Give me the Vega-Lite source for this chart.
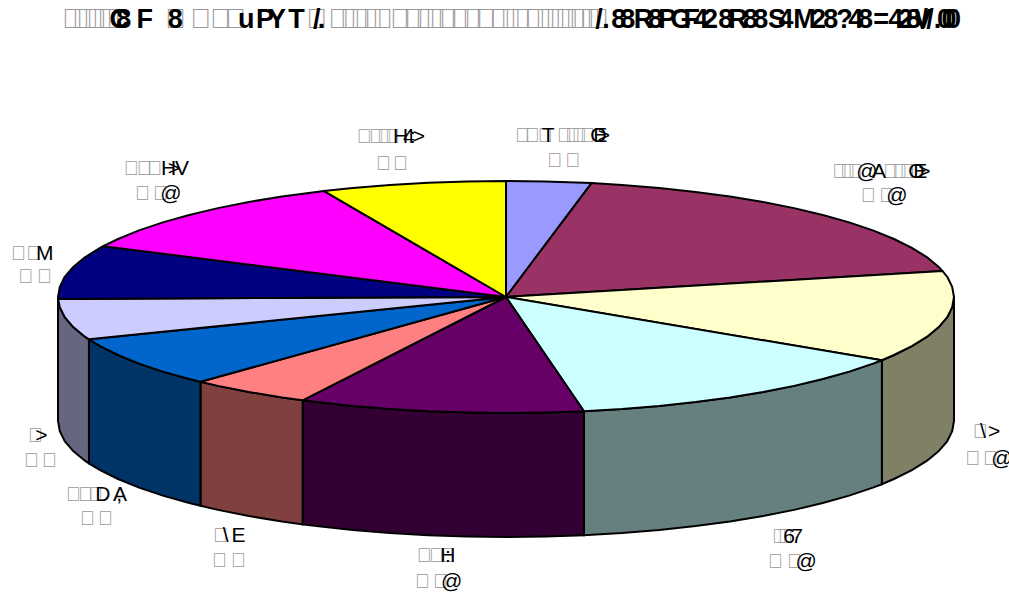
{"$schema":"https://vega.github.io/schema/vega-lite/v6.json","width":1009,"height":597,"autosize":{"type":"none"},"padding":0,"background":"white","config":{"view":{"stroke":null}},
"datasets":{
"walls":[
{"s":"C","x":1,"y":0,"y2":-1.069},{"s":"C","x":0.996,"y":-0.087,"y2":-1.156},{"s":"C","x":0.985,"y":-0.174,"y2":-1.243},{"s":"C","x":0.966,"y":-0.259,"y2":-1.328},{"s":"C","x":0.94,"y":-0.342,"y2":-1.411},{"s":"C","x":0.906,"y":-0.423,"y2":-1.492},{"s":"C","x":0.866,"y":-0.5,"y2":-1.569},{"s":"C","x":0.839,"y":-0.545,"y2":-1.614},
{"s":"D","x":0.839,"y":-0.545,"y2":-1.614},{"s":"D","x":0.819,"y":-0.574,"y2":-1.643},{"s":"D","x":0.766,"y":-0.643,"y2":-1.712},{"s":"D","x":0.707,"y":-0.707,"y2":-1.776},{"s":"D","x":0.643,"y":-0.766,"y2":-1.835},{"s":"D","x":0.574,"y":-0.819,"y2":-1.888},{"s":"D","x":0.5,"y":-0.866,"y2":-1.935},{"s":"D","x":0.423,"y":-0.906,"y2":-1.975},{"s":"D","x":0.342,"y":-0.94,"y2":-2.009},{"s":"D","x":0.259,"y":-0.966,"y2":-2.035},{"s":"D","x":0.174,"y":-0.985,"y2":-2.054},
{"s":"E","x":0.174,"y":-0.985,"y2":-2.054},{"s":"E","x":0.087,"y":-0.996,"y2":-2.065},{"s":"E","x":0,"y":-1,"y2":-2.069},{"s":"E","x":-0.087,"y":-0.996,"y2":-2.065},{"s":"E","x":-0.174,"y":-0.985,"y2":-2.054},{"s":"E","x":-0.259,"y":-0.966,"y2":-2.035},{"s":"E","x":-0.342,"y":-0.94,"y2":-2.009},{"s":"E","x":-0.423,"y":-0.906,"y2":-1.975},{"s":"E","x":-0.454,"y":-0.891,"y2":-1.96},
{"s":"F","x":-0.454,"y":-0.891,"y2":-1.96},{"s":"F","x":-0.5,"y":-0.866,"y2":-1.935},{"s":"F","x":-0.574,"y":-0.819,"y2":-1.888},{"s":"F","x":-0.643,"y":-0.766,"y2":-1.835},{"s":"F","x":-0.682,"y":-0.731,"y2":-1.8},
{"s":"G","x":-0.682,"y":-0.731,"y2":-1.8},{"s":"G","x":-0.707,"y":-0.707,"y2":-1.776},{"s":"G","x":-0.766,"y":-0.643,"y2":-1.712},{"s":"G","x":-0.819,"y":-0.574,"y2":-1.643},{"s":"G","x":-0.866,"y":-0.5,"y2":-1.569},{"s":"G","x":-0.906,"y":-0.423,"y2":-1.492},{"s":"G","x":-0.931,"y":-0.365,"y2":-1.434},
{"s":"H","x":-0.931,"y":-0.365,"y2":-1.434},{"s":"H","x":-0.94,"y":-0.342,"y2":-1.411},{"s":"H","x":-0.966,"y":-0.259,"y2":-1.328},{"s":"H","x":-0.985,"y":-0.174,"y2":-1.243},{"s":"H","x":-0.996,"y":-0.087,"y2":-1.156},{"s":"H","x":-1,"y":0,"y2":-1.069}
],
"top":[
{"s":"A","o":0,"x":0,"y":0},{"s":"A","o":1,"x":0,"y":1},{"s":"A","o":2,"x":0.087,"y":0.996},{"s":"A","o":3,"x":0.174,"y":0.985},{"s":"A","o":4,"x":0.191,"y":0.982},{"s":"A","o":5,"x":0,"y":0},
{"s":"B","o":0,"x":0,"y":0},{"s":"B","o":1,"x":0.191,"y":0.982},{"s":"B","o":2,"x":0.259,"y":0.966},{"s":"B","o":3,"x":0.342,"y":0.94},{"s":"B","o":4,"x":0.423,"y":0.906},{"s":"B","o":5,"x":0.5,"y":0.866},{"s":"B","o":6,"x":0.574,"y":0.819},{"s":"B","o":7,"x":0.643,"y":0.766},{"s":"B","o":8,"x":0.707,"y":0.707},{"s":"B","o":9,"x":0.766,"y":0.643},{"s":"B","o":10,"x":0.819,"y":0.574},{"s":"B","o":11,"x":0.866,"y":0.5},{"s":"B","o":12,"x":0.906,"y":0.423},{"s":"B","o":13,"x":0.94,"y":0.342},{"s":"B","o":14,"x":0.966,"y":0.259},{"s":"B","o":15,"x":0.974,"y":0.225},{"s":"B","o":16,"x":0,"y":0},
{"s":"C","o":0,"x":0,"y":0},{"s":"C","o":1,"x":0.974,"y":0.225},{"s":"C","o":2,"x":0.985,"y":0.174},{"s":"C","o":3,"x":0.996,"y":0.087},{"s":"C","o":4,"x":1,"y":0},{"s":"C","o":5,"x":0.996,"y":-0.087},{"s":"C","o":6,"x":0.985,"y":-0.174},{"s":"C","o":7,"x":0.966,"y":-0.259},{"s":"C","o":8,"x":0.94,"y":-0.342},{"s":"C","o":9,"x":0.906,"y":-0.423},{"s":"C","o":10,"x":0.866,"y":-0.5},{"s":"C","o":11,"x":0.839,"y":-0.545},{"s":"C","o":12,"x":0,"y":0},
{"s":"D","o":0,"x":0,"y":0},{"s":"D","o":1,"x":0.839,"y":-0.545},{"s":"D","o":2,"x":0.819,"y":-0.574},{"s":"D","o":3,"x":0.766,"y":-0.643},{"s":"D","o":4,"x":0.707,"y":-0.707},{"s":"D","o":5,"x":0.643,"y":-0.766},{"s":"D","o":6,"x":0.574,"y":-0.819},{"s":"D","o":7,"x":0.5,"y":-0.866},{"s":"D","o":8,"x":0.423,"y":-0.906},{"s":"D","o":9,"x":0.342,"y":-0.94},{"s":"D","o":10,"x":0.259,"y":-0.966},{"s":"D","o":11,"x":0.174,"y":-0.985},{"s":"D","o":12,"x":0,"y":0},
{"s":"E","o":0,"x":0,"y":0},{"s":"E","o":1,"x":0.174,"y":-0.985},{"s":"E","o":2,"x":0.087,"y":-0.996},{"s":"E","o":3,"x":0,"y":-1},{"s":"E","o":4,"x":-0.087,"y":-0.996},{"s":"E","o":5,"x":-0.174,"y":-0.985},{"s":"E","o":6,"x":-0.259,"y":-0.966},{"s":"E","o":7,"x":-0.342,"y":-0.94},{"s":"E","o":8,"x":-0.423,"y":-0.906},{"s":"E","o":9,"x":-0.454,"y":-0.891},{"s":"E","o":10,"x":0,"y":0},
{"s":"F","o":0,"x":0,"y":0},{"s":"F","o":1,"x":-0.454,"y":-0.891},{"s":"F","o":2,"x":-0.5,"y":-0.866},{"s":"F","o":3,"x":-0.574,"y":-0.819},{"s":"F","o":4,"x":-0.643,"y":-0.766},{"s":"F","o":5,"x":-0.682,"y":-0.731},{"s":"F","o":6,"x":0,"y":0},
{"s":"G","o":0,"x":0,"y":0},{"s":"G","o":1,"x":-0.682,"y":-0.731},{"s":"G","o":2,"x":-0.707,"y":-0.707},{"s":"G","o":3,"x":-0.766,"y":-0.643},{"s":"G","o":4,"x":-0.819,"y":-0.574},{"s":"G","o":5,"x":-0.866,"y":-0.5},{"s":"G","o":6,"x":-0.906,"y":-0.423},{"s":"G","o":7,"x":-0.931,"y":-0.365},{"s":"G","o":8,"x":0,"y":0},
{"s":"H","o":0,"x":0,"y":0},{"s":"H","o":1,"x":-0.931,"y":-0.365},{"s":"H","o":2,"x":-0.94,"y":-0.342},{"s":"H","o":3,"x":-0.966,"y":-0.259},{"s":"H","o":4,"x":-0.985,"y":-0.174},{"s":"H","o":5,"x":-0.996,"y":-0.087},{"s":"H","o":6,"x":-1,"y":-0.017},{"s":"H","o":7,"x":0,"y":0},
{"s":"I","o":0,"x":0,"y":0},{"s":"I","o":1,"x":-1,"y":-0.017},{"s":"I","o":2,"x":-1,"y":0},{"s":"I","o":3,"x":-0.996,"y":0.087},{"s":"I","o":4,"x":-0.985,"y":0.174},{"s":"I","o":5,"x":-0.966,"y":0.259},{"s":"I","o":6,"x":-0.94,"y":0.342},{"s":"I","o":7,"x":-0.906,"y":0.423},{"s":"I","o":8,"x":-0.899,"y":0.438},{"s":"I","o":9,"x":0,"y":0},
{"s":"J","o":0,"x":0,"y":0},{"s":"J","o":1,"x":-0.899,"y":0.438},{"s":"J","o":2,"x":-0.866,"y":0.5},{"s":"J","o":3,"x":-0.819,"y":0.574},{"s":"J","o":4,"x":-0.766,"y":0.643},{"s":"J","o":5,"x":-0.707,"y":0.707},{"s":"J","o":6,"x":-0.643,"y":0.766},{"s":"J","o":7,"x":-0.574,"y":0.819},{"s":"J","o":8,"x":-0.5,"y":0.866},{"s":"J","o":9,"x":-0.423,"y":0.906},{"s":"J","o":10,"x":-0.407,"y":0.914},{"s":"J","o":11,"x":0,"y":0},
{"s":"K","o":0,"x":0,"y":0},{"s":"K","o":1,"x":-0.407,"y":0.914},{"s":"K","o":2,"x":-0.342,"y":0.94},{"s":"K","o":3,"x":-0.259,"y":0.966},{"s":"K","o":4,"x":-0.174,"y":0.985},{"s":"K","o":5,"x":-0.087,"y":0.996},{"s":"K","o":6,"x":0,"y":1},{"s":"K","o":7,"x":0,"y":0}
],
"titleBoxes":[{"x":-0.991},{"x":-0.969},{"x":-0.944},{"x":-0.924},{"x":-0.906},{"x":-0.761},{"x":-0.705},{"x":-0.661},{"x":-0.627},{"x":-0.446},{"x":-0.397},{"x":-0.371},{"x":-0.348},{"x":-0.321},{"x":-0.299},{"x":-0.259},{"x":-0.23},{"x":-0.203},{"x":-0.181},{"x":-0.154},{"x":-0.125},{"x":-0.098},{"x":-0.069},{"x":-0.036},{"x":-0.013},{"x":0.009},{"x":0.042},{"x":0.065},{"x":0.087},{"x":0.109},{"x":0.132},{"x":0.147},{"x":0.165},{"x":0.183}],
"titleGlyphs":[{"t":"C","x":-0.885},{"t":"8","x":-0.87},{"t":"F","x":-0.825},{"t":"8","x":-0.755},{"t":"u","x":-0.598},{"t":"P","x":-0.558},{"t":"Y","x":-0.531},{"t":"T","x":-0.486},{"t":"/","x":-0.431},{"t":".","x":-0.42},{"t":"/","x":0.199},{"t":".","x":0.215},{"t":"8","x":0.235},{"t":"8","x":0.255},{"t":"R","x":0.285},{"t":"8","x":0.317},{"t":"P","x":0.34},{"t":"G","x":0.367},{"t":"F","x":0.396},{"t":"4","x":0.418},{"t":"2","x":0.44},{"t":"8","x":0.474},{"t":"R","x":0.496},{"t":"8","x":0.529},{"t":"8","x":0.552},{"t":"S","x":0.585},{"t":"4","x":0.608},{"t":"M","x":0.641},{"t":"2","x":0.681},{"t":"8","x":0.708},{"t":"?","x":0.737},{"t":"4","x":0.764},{"t":"8","x":0.786},{"t":"=","x":0.82},{"t":"4","x":0.853},{"t":"2","x":0.875},{"t":"8","x":0.893},{"t":"V","x":0.91},{"t":"/","x":0.925},{"t":"/","x":0.938},{"t":".","x":0.955},{"t":"0","x":0.962},{"t":"0","x":0.972},{"t":"0","x":0.982}],
"labelBoxes":[{"x":-0.333,"y":1.328},{"x":-0.306,"y":1.328},{"x":-0.288,"y":1.328},{"x":-0.27,"y":1.328},{"x":-0.29,"y":1.095},{"x":-0.252,"y":1.095},
{"x":0.02,"y":1.336},{"x":0.042,"y":1.336},{"x":0.071,"y":1.336},{"x":0.114,"y":1.336},{"x":0.132,"y":1.336},{"x":0.147,"y":1.336},{"x":0.165,"y":1.336},{"x":0.092,"y":1.121},{"x":0.132,"y":1.121},
{"x":0.728,"y":1.026},{"x":0.746,"y":1.026},{"x":0.763,"y":1.026},{"x":0.842,"y":1.026},{"x":0.862,"y":1.026},{"x":0.879,"y":1.026},{"x":0.902,"y":1.026},{"x":0.792,"y":0.819},{"x":0.833,"y":0.819},
{"x":-0.853,"y":1.052},{"x":-0.824,"y":1.052},{"x":-0.801,"y":1.052},{"x":-0.828,"y":0.836},{"x":-0.788,"y":0.836},
{"x":-1.105,"y":0.319},{"x":-1.071,"y":0.319},{"x":-1.089,"y":0.121},{"x":-1.047,"y":0.121},
{"x":-1.067,"y":-1.25},{"x":-1.076,"y":-1.466},{"x":-1.036,"y":-1.466},
{"x":-0.982,"y":-1.759},{"x":-0.955,"y":-1.759},{"x":-0.933,"y":-1.759},{"x":-0.951,"y":-1.966},{"x":-0.911,"y":-1.966},
{"x":-0.654,"y":-2.112},{"x":-0.656,"y":-2.328},{"x":-0.614,"y":-2.328},
{"x":-0.199,"y":-2.284},{"x":-0.172,"y":-2.284},{"x":-0.147,"y":-2.284},{"x":-0.203,"y":-2.509},{"x":-0.163,"y":-2.509},
{"x":0.594,"y":-2.121},{"x":0.607,"y":-2.121},{"x":0.585,"y":-2.336},{"x":0.627,"y":-2.336},
{"x":1.042,"y":-1.216},{"x":1.025,"y":-1.448},{"x":1.065,"y":-1.448}],
"labelGlyphs":[{"t":"H","x":-0.252,"y":1.328},{"t":"4","x":-0.23,"y":1.328},{"t":":","x":-0.215,"y":1.328},{"t":">","x":-0.208,"y":1.328},
{"t":"T","x":0.08,"y":1.336},{"t":"O","x":0.188,"y":1.336},{"t":"E","x":0.195,"y":1.336},{"t":">","x":0.205,"y":1.336},
{"t":"@","x":0.782,"y":1.026},{"t":"A","x":0.817,"y":1.026},{"t":"O","x":0.898,"y":1.026},{"t":"E","x":0.909,"y":1.026},{"t":">","x":0.92,"y":1.026},{"t":"@","x":0.849,"y":0.819},
{"t":"H","x":-0.77,"y":1.052},{"t":">","x":-0.755,"y":1.052},{"t":"V","x":-0.739,"y":1.052},{"t":"@","x":-0.772,"y":0.836},
{"t":"M","x":-1.049,"y":0.319},
{"t":">","x":-1.051,"y":-1.25},
{"t":"D","x":-0.917,"y":-1.759},{"t":"A","x":-0.877,"y":-1.759},{"t":",","x":-0.87,"y":-1.759},
{"t":"\\","x":-0.632,"y":-2.112},{"t":"E","x":-0.613,"y":-2.112},
{"t":"H","x":-0.147,"y":-2.284},{"t":":","x":-0.136,"y":-2.284},{"t":"@","x":-0.145,"y":-2.509},
{"t":"6","x":0.619,"y":-2.121},{"t":"7","x":0.637,"y":-2.121},{"t":"@","x":0.646,"y":-2.336},
{"t":"\\","x":1.058,"y":-1.216},{"t":">","x":1.076,"y":-1.216},{"t":"@","x":1.083,"y":-1.448}]
},
"layer":[
{"data":{"name":"walls"},"mark":{"type":"area","stroke":"black","strokeWidth":2,"opacity":1},
"encoding":{"x":{"field":"x","type":"quantitative","scale":{"domain":[-1.1295,1.1228],"nice":false,"zero":false},"axis":null},"y":{"field":"y","type":"quantitative","scale":{"domain":[-2.586,2.56],"nice":false,"zero":false},"axis":null},"y2":{"field":"y2"},"fill":{"field":"s","type":"nominal","legend":null,"scale":{"domain":["C","D","E","F","G","H"],"range":["#808066","#668080","#330033","#804040","#003366","#666680"]}}}},
{"data":{"name":"top"},"mark":{"type":"line","stroke":"black","strokeWidth":2,"strokeJoin":"round"},
"encoding":{"x":{"field":"x","type":"quantitative","axis":null},"y":{"field":"y","type":"quantitative","axis":null},"order":{"field":"o","type":"quantitative"},"detail":{"field":"s"},"fill":{"field":"s","type":"nominal","legend":null,"scale":{"domain":["A","B","C","D","E","F","G","H","I","J","K"],"range":["#9999FF","#993366","#FFFFCC","#CCFFFF","#660066","#FF8080","#0066CC","#CCCCFF","#000080","#FF00FF","#FFFF00"]}}}},
{"data":{"name":"titleBoxes"},"mark":{"type":"text","text":"\ue000","font":"Liberation Sans","fontSize":28,"align":"left","baseline":"alphabetic","color":"#999999"},"encoding":{"x":{"field":"x","type":"quantitative","axis":null},"y":{"datum":2.319,"type":"quantitative","axis":null}}},
{"data":{"name":"titleGlyphs"},"mark":{"type":"text","font":"Liberation Sans","fontSize":27,"fontWeight":"bold","align":"left","baseline":"alphabetic","color":"black"},"encoding":{"x":{"field":"x","type":"quantitative","axis":null},"y":{"datum":2.319,"type":"quantitative","axis":null},"text":{"field":"t"}}},
{"data":{"name":"labelBoxes"},"mark":{"type":"text","text":"\ue000","font":"Liberation Sans","fontSize":20,"align":"left","baseline":"alphabetic","color":"#999999"},"encoding":{"x":{"field":"x","type":"quantitative","axis":null},"y":{"field":"y","type":"quantitative","axis":null}}},
{"data":{"name":"labelGlyphs"},"mark":{"type":"text","font":"Liberation Sans","fontSize":21,"align":"left","baseline":"alphabetic","color":"black"},"encoding":{"x":{"field":"x","type":"quantitative","axis":null},"y":{"field":"y","type":"quantitative","axis":null},"text":{"field":"t"}}}
],
"resolve":{"scale":{"fill":"independent"}}}
